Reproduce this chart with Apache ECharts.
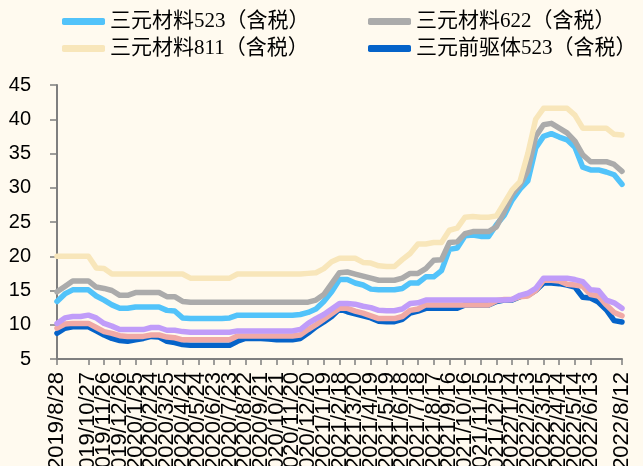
<!DOCTYPE html>
<html>
<head>
<meta charset="utf-8">
<script src="https://cdn.jsdelivr.net/npm/echarts@6/dist/echarts.min.js"></script>
<style>
  html, body { margin: 0; padding: 0; background: #FFFAEF; }
  #chart { width: 643px; height: 466px; }
</style>
</head>
<body>
<div id="chart"></div>
<script>
// Price series, sampled every 15 days from 2019/8/28 to 2022/8/12 (unit: 万元/吨)
const startDate = [2019, 8, 28];
const stepDays = 15;
const pointCount = 73;

const seriesNames = [
  '三元材料523（含税）',
  '三元材料622（含税）',
  '三元材料811（含税）',
  '三元前驱体523（含税）',
  '三元前驱体622（含税）',
  '三元前驱体811（含税）'
];

const ncm523 = [
  13.4, 14.5, 15.1, 15.1, 15.1, 14.2, 13.6, 12.9, 12.4, 12.4,
  12.6, 12.6, 12.6, 12.6, 12.1, 12.0, 11.0, 10.9, 10.9, 10.9,
  10.9, 10.9, 11.0, 11.4, 11.4, 11.4, 11.4, 11.4, 11.4, 11.4,
  11.4, 11.5, 11.8, 12.3, 13.4, 14.8, 16.6, 16.6, 16.1, 15.8,
  15.2, 15.1, 15.1, 15.1, 15.3, 16.1, 16.1, 17.0, 17.0, 17.9,
  21.0, 21.2, 23.0, 23.1, 22.9, 22.9, 24.6, 26.0, 28.2, 29.8,
  31.0, 35.8, 37.5, 37.9, 37.4, 37.0, 35.9, 33.0, 32.6, 32.6,
  32.3, 31.9, 30.5
];

const ncm622 = [
  14.8, 15.6, 16.4, 16.4, 16.4, 15.5, 15.3, 15.0, 14.3, 14.3,
  14.7, 14.7, 14.7, 14.7, 14.1, 14.1, 13.4, 13.3, 13.3, 13.3,
  13.3, 13.3, 13.3, 13.3, 13.3, 13.3, 13.3, 13.3, 13.3, 13.3,
  13.3, 13.3, 13.3, 13.6, 14.4, 16.0, 17.6, 17.7, 17.4, 17.1,
  16.8, 16.5, 16.5, 16.5, 16.8, 17.5, 17.5, 18.2, 19.4, 19.5,
  22.0, 22.1, 23.3, 23.6, 23.6, 23.6, 24.3, 26.5, 29.0, 30.4,
  32.5, 37.5, 39.2, 39.4, 38.7, 38.0, 36.8, 34.8, 33.8, 33.8,
  33.8, 33.4, 32.4
];

const ncm811 = [
  20.0, 20.0, 20.0, 20.0, 20.0, 18.3, 18.2, 17.4, 17.4, 17.4,
  17.4, 17.4, 17.4, 17.4, 17.4, 17.4, 17.4, 16.8, 16.8, 16.8,
  16.8, 16.8, 16.8, 17.4, 17.4, 17.4, 17.4, 17.4, 17.4, 17.4,
  17.4, 17.4, 17.5, 17.6, 18.2, 19.2, 19.7, 19.7, 19.7, 19.1,
  19.0, 18.6, 18.5, 18.5, 19.5, 20.4, 21.8, 21.8, 22.0, 22.0,
  23.8, 24.1, 25.7, 25.8, 25.7, 25.7, 25.9, 27.8, 29.7, 30.9,
  35.0, 40.0, 41.6, 41.6, 41.6, 41.6, 40.6, 38.7, 38.7, 38.7,
  38.7, 37.8, 37.7
];

const pre523 = [
  8.75, 9.5, 9.7, 9.7, 9.7, 9.1, 8.5, 8.0, 7.7, 7.6,
  7.8, 8.0, 8.3, 8.2, 7.6, 7.4, 7.1, 7.0, 7.0, 7.0,
  7.0, 7.0, 7.0, 7.6, 8.0, 8.0, 8.0, 7.9, 7.8, 7.8,
  7.8, 8.0, 8.8, 9.7, 10.4, 11.2, 12.3, 11.9, 11.6, 11.3,
  11.0, 10.5, 10.45, 10.45, 10.8, 11.7, 12.0, 12.4, 12.4, 12.4,
  12.4, 12.4, 12.9, 12.9, 12.9, 12.9, 13.4, 13.6, 13.6, 14.1,
  14.3, 15.0, 16.1, 16.1, 16.0, 15.8, 15.5, 14.0, 13.9, 13.3,
  12.2, 10.6, 10.4
];

const pre622 = [
  9.5, 10.1, 10.2, 10.2, 10.2, 9.6, 9.0, 8.75, 8.4, 8.3,
  8.3, 8.3, 8.5, 8.5, 8.2, 8.1, 7.8, 7.8, 7.8, 7.8,
  7.8, 7.8, 7.8, 8.35, 8.35, 8.35, 8.35, 8.35, 8.35, 8.35,
  8.35, 8.5, 9.3, 10.0, 10.8, 11.6, 12.4, 12.4, 12.0, 11.7,
  11.3, 10.9, 10.9, 10.9, 11.2, 12.1, 12.3, 12.9, 12.9, 12.9,
  12.9, 12.9, 12.9, 12.9, 12.9, 12.9, 13.5, 13.7, 13.7, 14.1,
  14.2, 15.0, 16.5, 16.5, 16.4, 15.9, 15.8, 15.6, 14.4, 14.2,
  12.9, 11.8, 11.3
];

const pre811 = [
  10.2, 11.0, 11.2, 11.2, 11.4, 11.0, 10.2, 9.8, 9.3, 9.3,
  9.3, 9.3, 9.6, 9.6, 9.2, 9.2, 9.0, 8.9, 8.9, 8.9,
  8.9, 8.9, 8.9, 9.1, 9.1, 9.1, 9.1, 9.1, 9.1, 9.1,
  9.1, 9.3, 10.2, 10.9, 11.5, 12.3, 13.1, 13.1, 13.0, 12.7,
  12.5, 12.1, 12.05, 12.05, 12.3, 13.1, 13.2, 13.6, 13.6, 13.6,
  13.6, 13.6, 13.6, 13.6, 13.6, 13.6, 13.6, 13.6, 13.7, 14.3,
  14.6, 15.3, 16.8, 16.8, 16.8, 16.8, 16.6, 16.3, 15.1, 15.0,
  13.6, 13.2, 12.4
];

const seriesColors = ['#52C3FA', '#ABABAB', '#F8E6BA', '#0563C9', '#F0A9A6', '#C09CF9'];

// Category dates (every 15 days); every second one is labelled
const categories = [];
for (let i = 0; i < pointCount; i++) {
  const d = new Date(Date.UTC(startDate[0], startDate[1] - 1, startDate[2] + i * stepDays));
  categories.push(d.getUTCFullYear() + '/' + (d.getUTCMonth() + 1) + '/' + d.getUTCDate());
}

const values = [ncm523, ncm622, ncm811, pre523, pre622, pre811];
const lineSeries = values.map(function (v, i) {
  return {
    name: seriesNames[i],
    type: 'line',
    data: v,
    showSymbol: false,
    symbol: 'none',
    smooth: false,
    color: seriesColors[i],
    lineStyle: { width: 5.5, color: seriesColors[i], cap: 'round', join: 'round' },
    z: 2 + i
  };
});

const legendText = { fontFamily: '"Liberation Serif", "Noto Sans CJK SC", serif', fontSize: 21, color: '#000', lineHeight: 21 };

const chart = echarts.init(document.getElementById('chart'), null, { renderer: 'canvas' });
chart.setOption({
  backgroundColor: '#FFFAEF',
  animation: false,
  legend: [
    {
      data: [seriesNames[0], seriesNames[2]],
      orient: 'vertical', left: 62, top: 11, itemGap: 6, padding: 0,
      icon: 'roundRect', itemWidth: 43, itemHeight: 7,
      textStyle: legendText
    },
    {
      data: [seriesNames[1], seriesNames[3]],
      orient: 'vertical', left: 368, top: 11, itemGap: 6, padding: 0,
      icon: 'roundRect', itemWidth: 43, itemHeight: 7,
      textStyle: legendText
    }
  ],
  grid: { left: 57, right: 21, top: 85, bottom: 107, containLabel: false, outerBoundsMode: 'none' },
  xAxis: {
    type: 'category',
    data: categories,
    boundaryGap: false,
    axisLine: { lineStyle: { color: '#7F7F7F', width: 2 } },
    axisTick: { show: true, interval: 1, length: 6, lineStyle: { color: '#7F7F7F', width: 1.5 } },
    axisLabel: {
      interval: 1, rotate: 90, margin: 13, showMinLabel: true, showMaxLabel: true, hideOverlap: false,
      fontFamily: '"Liberation Sans", Arial, sans-serif', fontSize: 22, color: '#000'
    },
    splitLine: { show: false }
  },
  yAxis: {
    type: 'value',
    min: 5, max: 45, interval: 5,
    axisLine: { show: true, lineStyle: { color: '#7F7F7F', width: 2 } },
    axisTick: { show: true, length: 7, lineStyle: { color: '#7F7F7F', width: 1.5 } },
    axisLabel: { margin: 26, fontFamily: '"Liberation Sans", Arial, sans-serif', fontSize: 20, color: '#000' },
    splitLine: { show: false }
  },
  series: lineSeries
});
</script>
</body>
</html>
